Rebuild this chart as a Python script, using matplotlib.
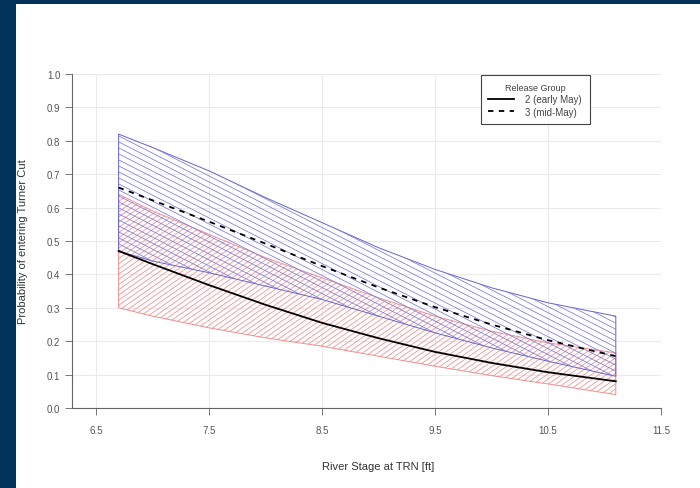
import numpy as np
import matplotlib
matplotlib.use('Agg')
from matplotlib import pyplot as plt
from matplotlib.collections import LineCollection
from matplotlib.patches import Rectangle

plt.rcParams['font.family'] = ['Liberation Sans', 'DejaVu Sans']

# river stage at TRN (ft)
stage = [6.7, 7.0, 7.5, 8.0, 8.5, 9.0, 9.5, 10.0, 10.5, 11.1]

# release group 2 (early May)
g2_mean = [0.47, 0.431, 0.368, 0.309, 0.255, 0.209, 0.168, 0.135, 0.107, 0.08]
g2_low = [0.30, 0.275, 0.24, 0.21, 0.185, 0.155, 0.125, 0.097, 0.072, 0.04]
g2_high = [0.64, 0.59, 0.52, 0.45, 0.39, 0.33, 0.275, 0.23, 0.195, 0.165]

# release group 3 (mid-May)
g3_mean = [0.66, 0.622, 0.558, 0.492, 0.425, 0.361, 0.302, 0.25, 0.203, 0.155]
g3_low = [0.47, 0.44, 0.405, 0.365, 0.325, 0.275, 0.225, 0.18, 0.14, 0.095]
g3_high = [0.82, 0.78, 0.71, 0.63, 0.555, 0.48, 0.415, 0.36, 0.315, 0.275]

x_ticks = [6.5, 7.5, 8.5, 9.5, 10.5, 11.5]
y_ticks = np.arange(0, 1.01, 0.1)

fig = plt.figure(figsize=(7, 4.89), dpi=100)
fig.patch.set_facecolor('#03335a')
fig.patches.append(Rectangle((16/700, 0), 1, 1 - 5/489, transform=fig.transFigure,
                             facecolor='white', edgecolor='none', zorder=-5))

ax = fig.add_axes([72/700, 1 - 409/489, 589/700, 334/489])
ax.set_facecolor('white')
ax.set_xlim(6.5 - 24/113, 11.5)
ax.set_ylim(0, 1)


def hatch_band(ax, x, lo, hi, color, edge, angle, step):
    band = ax.fill_between(x, lo, hi, facecolor='none', edgecolor=edge, lw=0.7, zorder=2)
    w, h = ax.bbox.width, ax.bbox.height
    t = np.tan(np.radians(angle))
    segs = []
    for c in np.arange(-w*abs(t) - h, h + w*abs(t), step):
        segs.append([(0, c/h), (1, (c + t*w)/h)])
    lc = LineCollection(segs, colors=color, lw=0.55, transform=ax.transAxes, zorder=2)
    lc.set_clip_path(band.get_paths()[0], ax.transData)
    ax.add_collection(lc)


hatch_band(ax, stage, g2_low, g2_high, '#f28c8c', '#ee9090', 35, 5.2)
hatch_band(ax, stage, g3_low, g3_high, '#7878e4', '#6464c8', -27, 6.0)

ax.plot(stage, g2_mean, color='black', lw=1.3, label='2 (early May)', zorder=3)
ax.plot(stage, g3_mean, color='black', lw=1.3, ls=(0, (3, 3)), label='3 (mid-May)', zorder=3)

ax.set_xticks(x_ticks)
ax.set_xticklabels([str(v) for v in x_ticks])
ax.set_yticks(y_ticks)
ax.set_yticklabels(['%.1f' % v for v in y_ticks])
ax.grid(True, color='#ebebeb', lw=0.8)
ax.set_axisbelow(True)
for s in ['top', 'right']:
    ax.spines[s].set_visible(False)
for s in ['left', 'bottom']:
    ax.spines[s].set_color('#666666')
    ax.spines[s].set_linewidth(0.8)
ax.tick_params(colors='#777777', labelsize=7, length=5, width=0.7, labelcolor='#555555')
ax.tick_params(axis='x', pad=7)

ax.set_xlabel('River Stage at TRN [ft]', fontsize=8, color='#333333')
ax.set_ylabel('Probability of entering Turner Cut', fontsize=8, color='#333333')
ax.xaxis.set_label_coords(0.52, -0.159)
ax.yaxis.set_label_coords(-0.074, 0.5)

leg = ax.legend(title='Release Group', loc='upper right', bbox_to_anchor=(0.879, 0.997),
                borderaxespad=0, fontsize=7, title_fontsize=6.5, fancybox=False,
                framealpha=1, edgecolor='#444444', handlelength=2.6, handletextpad=1.2,
                borderpad=0.8, labelspacing=0.25)
leg.get_frame().set_linewidth(0.8)
for t in leg.get_texts():
    t.set_color('#444444')
leg.get_title().set_color('#444444')

fig.savefig('out.png', dpi=100, facecolor=fig.get_facecolor())
